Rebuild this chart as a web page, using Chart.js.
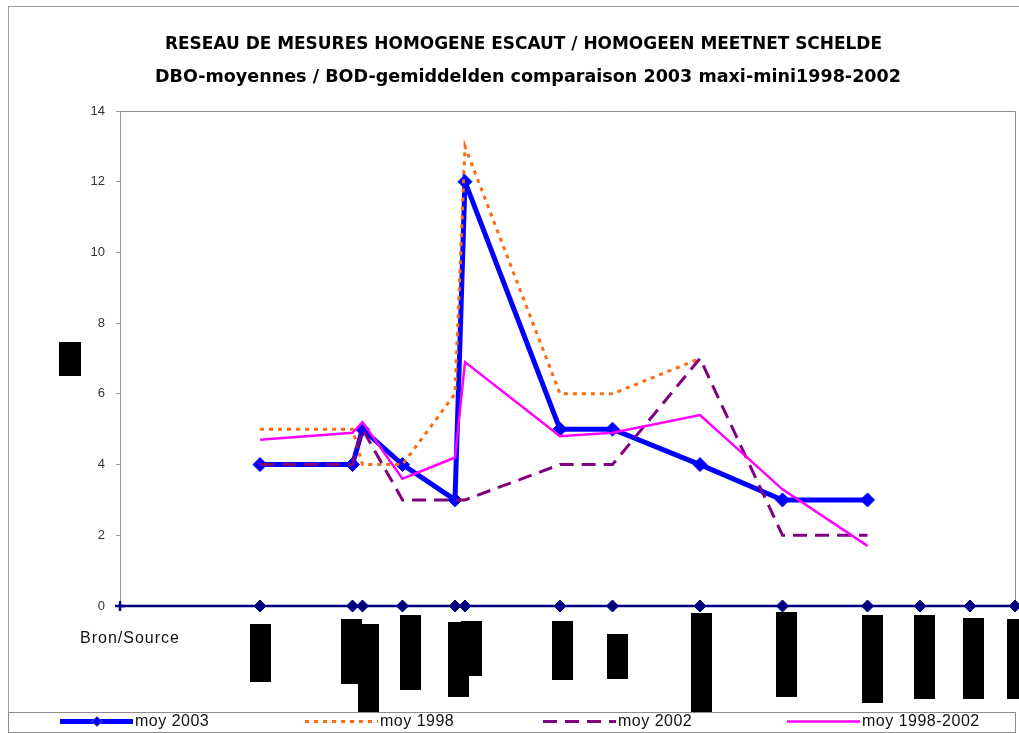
<!DOCTYPE html>
<html>
<head>
<meta charset="utf-8">
<script src="https://cdn.jsdelivr.net/npm/chart.js@4.4.1/dist/chart.umd.min.js"></script>
<style>
  html, body { margin: 0; padding: 0; background: #fff; }
  canvas { display: block; }
</style>
</head>
<body>
<canvas id="chart" width="1019" height="733"></canvas>
<script>
// Titles
const titleLines = [
  'RESEAU DE MESURES HOMOGENE ESCAUT / HOMOGEEN MEETNET SCHELDE',
  'DBO-moyennes / BOD-gemiddelden comparaison 2003 maxi-mini1998-2002'
];
const sourceLabel = 'Bron/Source';

// Station positions along the river (km from the source)
const stationKm = [0, 56, 93, 97, 113, 134, 138, 176, 197, 232, 265, 299, 320, 340, 358];

// Mean BOD values (mg/l) per station
const moy2003     = [null, 4, 4, 5, 4, 3, 12, 5, 5, 4, 3, 3, null, null, null];
const moy1998     = [null, 5, 5, 4, 4, 6, 13, 6, 6, 7, null, null, null, null, null];
const moy2002     = [null, 4, 4, 5, 3, 3, 3, 4, 4, 7, 2, 2, null, null, null];
const moy19982002 = [null, 4.7, 4.9, 5.2, 3.6, 4.2, 6.9, 4.8, 4.9, 5.4, 3.3, 1.7, null, null, null];
const stationLine = [0, 0, 0, 0, 0, 0, 0, 0, 0, 0, 0, 0, 0, 0, 0];

// Y axis
const yMin = 0, yMax = 14, yStep = 2;

// Station name blocks under the axis: [left offset from station, top, bottom]
const nameBlocks = [
  null,
  [-10, 624, 682], [-12, 619, 684], [-5, 624, 712], [-3, 615, 690],
  [-7, 622, 697], [-4, 621, 676], [-8, 621, 680], [-6, 634, 679],
  [-9, 613, 712], [-7, 612, 697], [-6, 615, 703], [-6, 615, 699],
  [-7, 618, 699], [-8, 619, 699]
];

const toPoints = arr => stationKm.map((x, i) => ({ x, y: arr[i] }));

const frame = {
  id: 'frame',
  beforeDraw(chart) {
    const ctx = chart.ctx;
    const a = chart.chartArea;
    ctx.save();
    ctx.fillStyle = '#fff';
    ctx.fillRect(0, 0, chart.width, chart.height);
    // outer frame
    ctx.strokeStyle = '#a0a0a0';
    ctx.lineWidth = 1;
    ctx.strokeRect(8.5, 6.5, 1040, 760);
    // plot box (top and right)
    ctx.strokeStyle = '#8c8c8c';
    ctx.beginPath();
    ctx.moveTo(a.left, a.top + 0.5);
    ctx.lineTo(a.right + 0.5, a.top + 0.5);
    ctx.lineTo(a.right + 0.5, a.bottom);
    ctx.stroke();

    // title lines, fitted to their widths
    const fitText = (text, cx, cy, w, font) => {
      ctx.font = font;
      const m = ctx.measureText(text).width;
      ctx.save();
      ctx.translate(cx, cy);
      ctx.scale(w / m, 1);
      ctx.textAlign = 'center';
      ctx.textBaseline = 'middle';
      ctx.fillStyle = '#000';
      ctx.fillText(text, 0, 0);
      ctx.restore();
    };
    fitText(titleLines[0], 523.5, 45, 717, 'bold 17px "DejaVu Sans"');
    fitText(titleLines[1], 528, 78, 746, 'bold 17px "DejaVu Sans"');

    // y axis title block
    ctx.fillStyle = '#000';
    ctx.fillRect(59, 342, 22, 34);

    // source label
    ctx.font = '16px "Liberation Sans"';
    ctx.letterSpacing = '1px';
    ctx.textAlign = 'left';
    ctx.textBaseline = 'alphabetic';
    ctx.fillStyle = '#111';
    ctx.fillText(sourceLabel, 80, 643);
    ctx.letterSpacing = '0px';
    ctx.restore();
  },
  afterDraw(chart) {
    const ctx = chart.ctx;
    const xs = chart.scales.x;
    ctx.save();
    // station name blocks
    ctx.fillStyle = '#000';
    nameBlocks.forEach((b, i) => {
      if (!b) return;
      const px = Math.round(xs.getPixelForValue(stationKm[i]));
      ctx.fillRect(px + b[0], b[1], 21, b[2] - b[1]);
    });

    // legend
    ctx.fillStyle = '#fff';
    ctx.fillRect(8, 712, 1008, 21);
    ctx.strokeStyle = '#8c8c8c';
    ctx.lineWidth = 1;
    ctx.strokeRect(8.5, 712.5, 1007, 20);
    const items = [
      { ds: 0, x: 60 },
      { ds: 1, x: 305 },
      { ds: 2, x: 543 },
      { ds: 3, x: 787 }
    ];
    const ly = 721.5;
    items.forEach(it => {
      const d = chart.data.datasets[it.ds];
      ctx.save();
      ctx.strokeStyle = d.borderColor;
      ctx.lineWidth = d.borderWidth;
      ctx.setLineDash(d.borderDash || []);
      ctx.beginPath();
      ctx.moveTo(it.x, ly);
      ctx.lineTo(it.x + 73, ly);
      ctx.stroke();
      ctx.restore();
      if (d.pointRadius > 0) {
        Chart.helpers.drawPoint(ctx, {
          pointStyle: d.pointStyle, radius: 5, borderWidth: 1, rotation: 0
        }, it.x + 37, ly);
        ctx.fillStyle = d.pointBackgroundColor;
        ctx.fill();
      }
      ctx.font = '16px "Liberation Sans"';
      ctx.letterSpacing = '0.5px';
      ctx.fillStyle = '#111';
      ctx.textAlign = 'left';
      ctx.textBaseline = 'middle';
      ctx.fillText(d.label, it.x + 75, ly + 0.5);
    });
    ctx.restore();
  }
};

new Chart(document.getElementById('chart'), {
  type: 'line',
  data: {
    datasets: [
      {
        label: 'moy 2003', data: toPoints(moy2003), order: 4,
        borderColor: '#0000ff', backgroundColor: '#0000ff', borderWidth: 5,
        pointStyle: 'rectRot', pointRadius: 7, pointBackgroundColor: '#0000ff',
        pointBorderColor: '#0000ff', pointBorderWidth: 1, clip: false
      },
      {
        label: 'moy 1998', data: toPoints(moy1998), order: 3,
        borderColor: '#ff6a10', borderWidth: 3, borderDash: [4, 5],
        pointRadius: 0, clip: false
      },
      {
        label: 'moy 2002', data: toPoints(moy2002), order: 2,
        borderColor: '#800080', borderWidth: 3, borderDash: [14, 8],
        pointRadius: 0, clip: false
      },
      {
        label: 'moy 1998-2002', data: toPoints(moy19982002), order: 1,
        borderColor: '#ff00ff', borderWidth: 2.5,
        pointRadius: 0, clip: false
      },
      {
        label: sourceLabel, data: toPoints(stationLine), order: 5,
        borderColor: '#000080', backgroundColor: '#000080', borderWidth: 2.5,
        pointStyle: stationKm.map((_, i) => i === 0 ? 'cross' : 'rectRot'),
        pointRadius: stationKm.map((_, i) => i === 0 ? 5 : 6),
        pointBorderWidth: stationKm.map((_, i) => i === 0 ? 2.5 : 1),
        pointBackgroundColor: '#000080', pointBorderColor: '#000080', clip: false
      }
    ]
  },
  options: {
    responsive: false,
    animation: false,
    events: [],
    spanGaps: false,
    elements: { line: { tension: 0 } },
    layout: { autoPadding: false, padding: { left: 0, top: 111, right: 4, bottom: 127 } },
    plugins: { legend: { display: false }, title: { display: false }, tooltip: { enabled: false } },
    scales: {
      x: {
        type: 'linear', min: stationKm[0], max: stationKm[stationKm.length - 1],
        display: false
      },
      y: {
        min: yMin, max: yMax,
        afterFit(scale) { scale.width = 120; },
        ticks: {
          stepSize: yStep, padding: 11, color: '#333',
          font: { family: 'Liberation Sans', size: 13 }
        },
        grid: { drawOnChartArea: false, drawTicks: true, tickLength: 4, color: '#999' },
        border: { display: true, color: '#999', width: 1 }
      }
    }
  },
  plugins: [frame]
});
</script>
</body>
</html>
